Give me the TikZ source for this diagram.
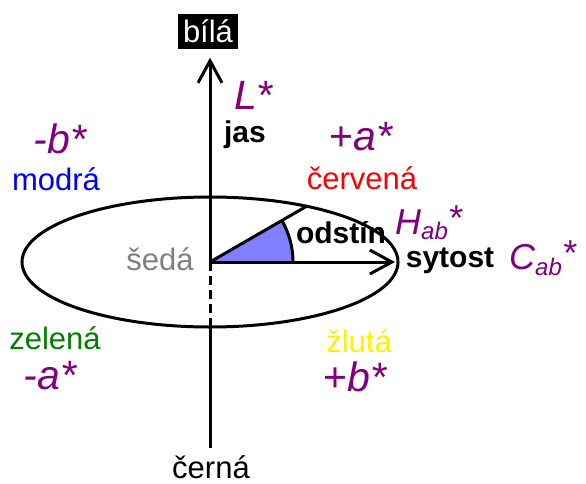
\documentclass[tikz,border=0pt]{standalone}
\usepackage{fontspec}
\setmainfont{Liberation Sans}
\usetikzlibrary{arrows.meta, positioning, calc}

\definecolor{labpurple}{HTML}{800080}
\definecolor{huefill}{HTML}{8080FF}
\definecolor{darkgreen}{HTML}{008000}

\begin{document}
\begin{tikzpicture}[x=1pt, y=-1pt,
        line/.style={line width=3pt},
        barb/.style={-{Straight Barb[length=22pt, width=24pt]}},
        lbl/.style={font=\fontsize{31}{34}\selectfont, inner sep=0pt, anchor=base},
        key/.style={font=\fontsize{30}{33}\selectfont\bfseries, inner sep=0pt, anchor=base},
        axlbl/.style={font=\fontsize{41}{44}\selectfont\itshape, text=labpurple, inner sep=0pt, anchor=base},
        anglbl/.style={font=\fontsize{36}{40}\selectfont\itshape, text=labpurple, inner sep=0pt, anchor=base west}
    ]
    \useasboundingbox (0,0) rectangle (586,483);

    % centre of the colour space
    \coordinate (o) at (210,262);
    \coordinate (bot) at (210,327);
    \coordinate (rim) at (398,262);
    \coordinate (hue) at (307,206);

    % hue angle
    \fill[huefill] (o) -- ++(83pt,0pt) arc[start angle=0, end angle=30, radius=83pt] -- cycle;
    \draw[line] ($(o)+(83,0)$) arc[start angle=0, end angle=30, radius=83pt];

    \draw[line] (o) ellipse[x radius=188pt, y radius=65pt];

    % end points
    \node[font=\fontsize{31}{34}\selectfont, fill=black, text=white, inner sep=0pt,
          minimum width=60pt, minimum height=35pt] (bila) at (208,31) {bílá};
    \node[lbl] (cerna) at (211,478) {černá};
    \node[lbl, text=gray] (seda) at (160,270) {šedá};

    % axes
    \draw[line, barb, shorten >=9pt] (o) -- (o |- bila.south);
    \draw[line, dash pattern=on 9pt off 5pt] (o) -- (bot);
    \draw[line, shorten >=7pt] (bot) -- (o |- cerna.north);
    \draw[line, barb, shorten >=3pt] (o) -- (rim);
    \draw[line] (o) -- (hue);

    % quantities
    \node[key] (jas) at (245,142) {jas};
    \node[key] (odstin) at (341,243) {odstín};
    \node[key] (sytost) at (450,267) {sytost};
    \node[axlbl, anchor=base west] (lstar) at (234,109) {L*};
    \node[anglbl] (hab) at (395,234) {H\raisebox{-5pt}{\fontsize{24}{24}\selectfont ab}\raisebox{4pt}{*}};
    \node[anglbl] (cab) at (509,269) {C\raisebox{-6pt}{\fontsize{24}{24}\selectfont ab}\raisebox{4pt}{*}};

    % opponent colours
    \node[axlbl] (pa) at (361,150) {\upshape+\itshape a*};
    \node[lbl, text=red] (cervena) at (362,189) {červená};
    \node[axlbl] (mb) at (60,153) {-b*};
    \node[lbl, text=blue] (modra) at (56,190) {modrá};
    \node[lbl, text=darkgreen] (zelena) at (55,349) {zelená};
    \node[axlbl] (ma) at (50,389) {-a*};
    \node[lbl, text=yellow] (zluta) at (359,352) {žlutá};
    \node[axlbl] (pb) at (355,391) {\upshape+\itshape b*};
\end{tikzpicture}
\end{document}
